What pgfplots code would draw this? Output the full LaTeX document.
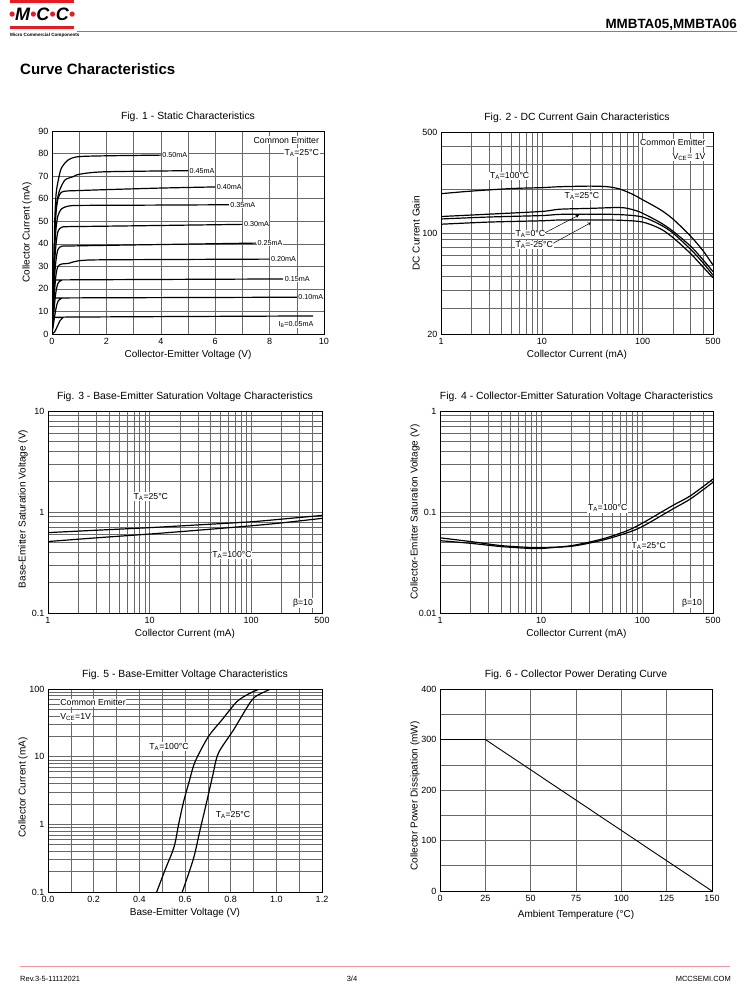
\documentclass[border=0pt]{standalone}
\usepackage{fontspec}
\setmainfont{Liberation Sans}
\usepackage{pgfplots}
\pgfplotsset{compat=1.18}

\definecolor{gridc}{RGB}{105,105,105}
\definecolor{mccred}{RGB}{228,28,36}
\definecolor{footpink}{RGB}{242,150,160}

\pgfplotsset{
  sheet/.style={
    scale only axis,
    axis line style={black, line width=0.8pt},
    grid=major,
    major grid style={gridc, line width=0.5pt},
    tick style={draw=none},
    tick label style={font=\fontsize{9}{10}\selectfont, text=black},
    xticklabel style={yshift=-1pt},
    label style={font=\fontsize{9.5}{11}\selectfont},
    every axis x label/.style={at={(axis description cs:0.5,0)}, yshift=-21pt, anchor=center},
    every axis y label/.style={at={(axis description cs:0,0.5)}, xshift=-25pt, rotate=90, anchor=center},
    every axis title/.style={font=\fontsize{10.4}{12}\selectfont, at={(axis description cs:0.5,1)}, yshift=14pt, anchor=center},
    /pgf/number format/assume math mode=true,
    every axis plot post/.append style={black, solid, line width=1.2pt, mark=none},
  },
}
\tikzset{
  ann/.style={font=\fontsize{8.7}{9}\selectfont, fill=white, inner sep=0.8pt},
  cl/.style={font=\fontsize{7.2}{8}\selectfont, fill=white, inner sep=0.6pt, anchor=west},
}

\begin{document}
\begin{tikzpicture}[x=1pt,y=1pt]
\path[use as bounding box] (0,0) rectangle (750,986);

% header
\fill[mccred] (10,983) rectangle (74,986);
\fill[mccred] (10,957) rectangle (74,960);
\node[anchor=base, inner sep=0, font=\fontsize{18}{18}\selectfont\bfseries\itshape] at (42,965)
  {{\color{mccred}•}M{\color{mccred}•}C{\color{mccred}•}C{\color{mccred}•}};
\node[anchor=base west, inner sep=0, font=\fontsize{4.6}{5}\selectfont\bfseries] at (10,949) {Micro Commercial Components};
\draw[gray, line width=0.8pt] (77,955) -- (737,955);
\node[anchor=base east, inner sep=0, font=\fontsize{13.4}{14}\selectfont\bfseries] at (737,957) {MMBTA05,MMBTA06};
\node[anchor=base west, inner sep=0, font=\fontsize{15}{16}\selectfont\bfseries] at (20,911) {Curve Characteristics};

% footer
\draw[footpink, line width=0.8pt] (20,20) -- (730,20);
\node[anchor=base west, inner sep=0, font=\fontsize{7.5}{8}\selectfont] at (20,5) {Rev.3-5-11112021};
\node[anchor=base, inner sep=0, font=\fontsize{7.5}{8}\selectfont] at (352,5) {3/4};
\node[anchor=base east, inner sep=0, font=\fontsize{7.5}{8}\selectfont] at (731,5) {MCCSEMI.COM};

% Fig. 1
\begin{axis}[sheet, at={(52pt,652pt)}, anchor=south west, width=272pt, height=203pt,
  xmin=0, xmax=10, ymin=0, ymax=90,
  xtick={0,1,2,3,4,5,6,7,8,9,10}, xticklabels={0,,2,,4,,6,,8,,10},
  ytick={0,10,20,30,40,50,60,70,80,90},
  title={Fig. 1 - Static Characteristics},
  xlabel={Collector-Emitter Voltage (V)}, ylabel={Collector Current (mA)},
  every axis plot/.append style={smooth, tension=0.45}]
\addplot coordinates {(0,0) (0.04,15) (0.08,35) (0.1,50) (0.15,62) (0.22,67.5) (0.34,73.4) (0.59,77.1) (0.96,78.6) (2,79) (4,79.3)};
\addplot coordinates {(0,0) (0.05,20) (0.1,45) (0.15,56) (0.26,63) (0.47,68.2) (0.77,69.7) (1.0,70.8) (1.9,71.9) (5,72.4)};
\addplot coordinates {(0,0) (0.05,20) (0.1,42) (0.15,54) (0.22,60) (0.34,62.8) (0.55,63.4) (1,63.6) (2,64) (4,64.7) (6,65.2)};
\addplot coordinates {(0,0) (0.05,18) (0.1,38) (0.15,47) (0.22,52.5) (0.35,55.5) (0.6,56.7) (1,57) (3,57.1) (6.5,57.3)};
\addplot coordinates {(0,0) (0.05,15) (0.1,32) (0.15,40) (0.22,45.5) (0.35,47.3) (0.6,47.6) (2,47.8) (7,48.6)};
\addplot coordinates {(0,0) (0.05,12) (0.1,26) (0.15,33) (0.22,37.5) (0.35,38.9) (0.6,39) (2,39.3) (7.5,40.3)};
\addplot coordinates {(0,0) (0.05,10) (0.1,20) (0.15,26.5) (0.22,30) (0.35,31) (0.6,31.3) (0.8,32) (1.1,32.6) (2,32.9) (8,33.2)};
\addplot coordinates {(0,0) (0.05,7) (0.1,14) (0.15,19) (0.22,22.5) (0.35,23.8) (0.6,24) (8.5,24.4)};
\addplot coordinates {(0,0) (0.05,4) (0.1,8) (0.15,11.5) (0.22,14.5) (0.35,15.8) (0.6,16) (9,16.3)};
\addplot coordinates {(0,0) (0.1,1) (0.2,3.5) (0.3,6) (0.4,7.2) (0.6,7.5) (9.6,8)};
\node[cl] at (axis cs:4.03,79.3) {0.50mA};
\node[cl] at (axis cs:5.03,72.4) {0.45mA};
\node[cl] at (axis cs:6.03,65.2) {0.40mA};
\node[cl] at (axis cs:6.53,57.3) {0.35mA};
\node[cl] at (axis cs:7.03,48.6) {0.30mA};
\node[cl] at (axis cs:7.53,40.3) {0.25mA};
\node[cl] at (axis cs:8.03,33.2) {0.20mA};
\node[cl] at (axis cs:8.53,24.4) {0.15mA};
\node[cl] at (axis cs:9.03,16.3) {0.10mA};
\node[cl] at (axis cs:8.3,4.3) {I\textsubscript{B}=0.05mA};
\node[ann, anchor=east] at (axis cs:9.85,86) {Common Emitter};
\node[ann, anchor=east] at (axis cs:9.85,80.3) {T\textsubscript{A}=25°C};
\end{axis}

% Fig. 2
\begin{axis}[sheet, at={(441pt,652pt)}, anchor=south west, width=272pt, height=202pt,
  xmode=log, xmin=1, xmax=500,
  xtick={1,2,3,4,5,6,7,8,9,10,20,30,40,50,60,70,80,90,100,200,300,400,500},
  xticklabels={1,,,,,,,,,10,,,,,,,,,100,,,,500},
  ymode=log, ymin=20, ymax=500,
  ytick={20,30,40,50,60,70,80,90,100,200,300,400,500},
  yticklabels={20,,,,,,,,100,,,,500},
  title={Fig. 2 - DC Current Gain Characteristics},
  xlabel={Collector Current (mA)}, ylabel={DC Current Gain},
  every axis plot/.append style={smooth, tension=0.5}]
\addplot coordinates {(1,187) (2,195) (5,203) (10,206) (15,209) (30,211) (45,209) (60,201) (80,185) (100,170) (150,145) (200,125) (300,95) (400,75) (500,60)};
\addplot coordinates {(1,130) (3,135) (10,141) (15,146) (30,148) (60,150) (80,145) (100,137) (150,118) (200,103) (300,81) (400,65) (500,54)};
\addplot coordinates {(1,125) (3,129) (10,132) (15,134.5) (30,135) (60,134) (100,129) (150,114) (200,100) (300,77) (400,62) (500,51)};
\addplot coordinates {(1,115) (3,119) (10,121.5) (15,123) (30,123) (60,122.5) (100,119) (150,107) (200,93) (300,72) (400,58) (500,49)};
\node[ann] at (axis cs:4.8,248) {T\textsubscript{A}=100°C};
\node[ann] at (axis cs:25,181) {T\textsubscript{A}=25°C};
\node[ann] at (axis cs:7.7,98) {T\textsubscript{A}=0°C};
\node[ann] at (axis cs:8.4,82.6) {T\textsubscript{A}=-25°C};
\draw[-stealth, line width=0.5pt] (axis cs:10.8,100.5) -- (axis cs:23.4,133);
\draw[-stealth, line width=0.5pt] (axis cs:13,84.9) -- (axis cs:30.8,118);
\node[ann, anchor=east] at (axis cs:430,422) {Common Emitter};
\node[ann, anchor=east] at (axis cs:430,336) {V\textsubscript{CE}= 1V};
\end{axis}

% Fig. 3
\begin{axis}[sheet, at={(48pt,373pt)}, anchor=south west, width=274pt, height=202pt,
  xmode=log, xmin=1, xmax=500,
  xtick={1,2,3,4,5,6,7,8,9,10,20,30,40,50,60,70,80,90,100,200,300,400,500},
  xticklabels={1,,,,,,,,,10,,,,,,,,,100,,,,500},
  ymode=log, ymin=0.1, ymax=10,
  ytick={0.1,0.2,0.3,0.4,0.5,0.6,0.7,0.8,0.9,1,2,3,4,5,6,7,8,9,10},
  yticklabels={0.1,,,,,,,,,1,,,,,,,,,10},
  title={Fig. 3 - Base-Emitter Saturation Voltage Characteristics},
  xlabel={Collector Current (mA)}, ylabel={Base-Emitter Saturation Voltage (V)},
  ylabel style={xshift=3pt},
  every axis plot/.append style={smooth}]
\addplot coordinates {(1,0.625) (3,0.66) (10,0.70) (30,0.745) (100,0.80) (200,0.85) (500,0.925)};
\addplot coordinates {(1,0.51) (3,0.555) (10,0.605) (30,0.66) (100,0.73) (200,0.78) (500,0.865)};
\node[ann] at (axis cs:10.3,1.415) {T\textsubscript{A}=25°C};
\node[ann] at (axis cs:65,0.376) {T\textsubscript{A}=100°C};
\node[ann] at (axis cs:325,0.1255) {β=10};
\end{axis}

% Fig. 4
\begin{axis}[sheet, at={(440pt,373pt)}, anchor=south west, width=273pt, height=202pt,
  xmode=log, xmin=1, xmax=500,
  xtick={1,2,3,4,5,6,7,8,9,10,20,30,40,50,60,70,80,90,100,200,300,400,500},
  xticklabels={1,,,,,,,,,10,,,,,,,,,100,,,,500},
  ymode=log, ymin=0.01, ymax=1,
  ytick={0.01,0.02,0.03,0.04,0.05,0.06,0.07,0.08,0.09,0.1,0.2,0.3,0.4,0.5,0.6,0.7,0.8,0.9,1},
  yticklabels={0.01,,,,,,,,,0.1,,,,,,,,,1},
  title={Fig. 4 - Collector-Emitter Saturation Voltage Characteristics},
  xlabel={Collector Current (mA)}, ylabel={Collector-Emitter Saturation Voltage (V)},
  every axis plot/.append style={smooth}]
\addplot coordinates {(1,0.052) (2,0.049) (4,0.0455) (8,0.0435) (10,0.0435) (20,0.0465) (40,0.054) (70,0.065) (100,0.0775) (200,0.116) (300,0.145) (500,0.212)};
\addplot coordinates {(1,0.0555) (2,0.051) (4,0.0465) (8,0.0445) (10,0.0445) (20,0.0458) (40,0.0525) (70,0.062) (100,0.0718) (200,0.107) (300,0.135) (500,0.197)};
\node[ann] at (axis cs:45.5,0.109) {T\textsubscript{A}=100°C};
\node[ann] at (axis cs:116,0.0463) {T\textsubscript{A}=25°C};
\node[ann] at (axis cs:310,0.0126) {β=10};
\end{axis}

% Fig. 5
\begin{axis}[sheet, at={(48pt,94pt)}, anchor=south west, width=274pt, height=203pt,
  xmin=0, xmax=1.2, ymode=log, ymin=0.1, ymax=100,
  xtick={0,0.1,0.2,0.3,0.4,0.5,0.6,0.7,0.8,0.9,1.0,1.1,1.2},
  xticklabels={0.0,,0.2,,0.4,,0.6,,0.8,,1.0,,1.2},
  ytick={0.1,0.2,0.3,0.4,0.5,0.6,0.7,0.8,0.9,1,2,3,4,5,6,7,8,9,10,20,30,40,50,60,70,80,90,100},
  yticklabels={0.1,,,,,,,,,1,,,,,,,,,10,,,,,,,,,100},
  title={Fig. 5 - Base-Emitter Voltage Characteristics},
  xlabel={Base-Emitter Voltage (V)}, ylabel={Collector Current (mA)},
  ylabel style={xshift=3pt},
  every axis plot/.append style={smooth, tension=0.5}]
\addplot coordinates {(0.476,0.1) (0.512,0.209) (0.552,0.463) (0.572,1.0) (0.593,2.1) (0.62,4.5) (0.644,8.4) (0.702,19.7) (0.761,34.7) (0.827,64.9) (0.88,85) (0.926,100)};
\addplot coordinates {(0.588,0.1) (0.637,0.311) (0.665,0.8) (0.695,2.15) (0.72,5) (0.746,11.2) (0.812,24.7) (0.893,68.7) (0.94,88) (0.976,100)};
\node[ann] at (axis cs:0.53,14) {T\textsubscript{A}=100°C};
\node[ann] at (axis cs:0.81,1.36) {T\textsubscript{A}=25°C};
\node[ann, anchor=west] at (axis cs:0.05,62.7) {Common Emitter};
\node[ann, anchor=west] at (axis cs:0.05,38) {V\textsubscript{CE}=1V};
\end{axis}

% Fig. 6
\begin{axis}[sheet, at={(440pt,95pt)}, anchor=south west, width=272pt, height=202pt,
  xmin=0, xmax=150, ymin=0, ymax=400,
  xtick={0,25,50,75,100,125,150},
  ytick={0,50,100,150,200,250,300,350,400},
  yticklabels={0,,100,,200,,300,,400},
  title={Fig. 6 - Collector Power Derating Curve},
  xlabel={Ambient Temperature (°C)}, ylabel={Collector Power Dissipation  (mW)},
  xlabel style={yshift=-3pt}, ylabel style={xshift=-6pt},
  every axis plot post/.append style={line width=0.9pt}]
\addplot coordinates {(0,300) (25,300) (150,0)};
\end{axis}
\end{tikzpicture}
\end{document}
